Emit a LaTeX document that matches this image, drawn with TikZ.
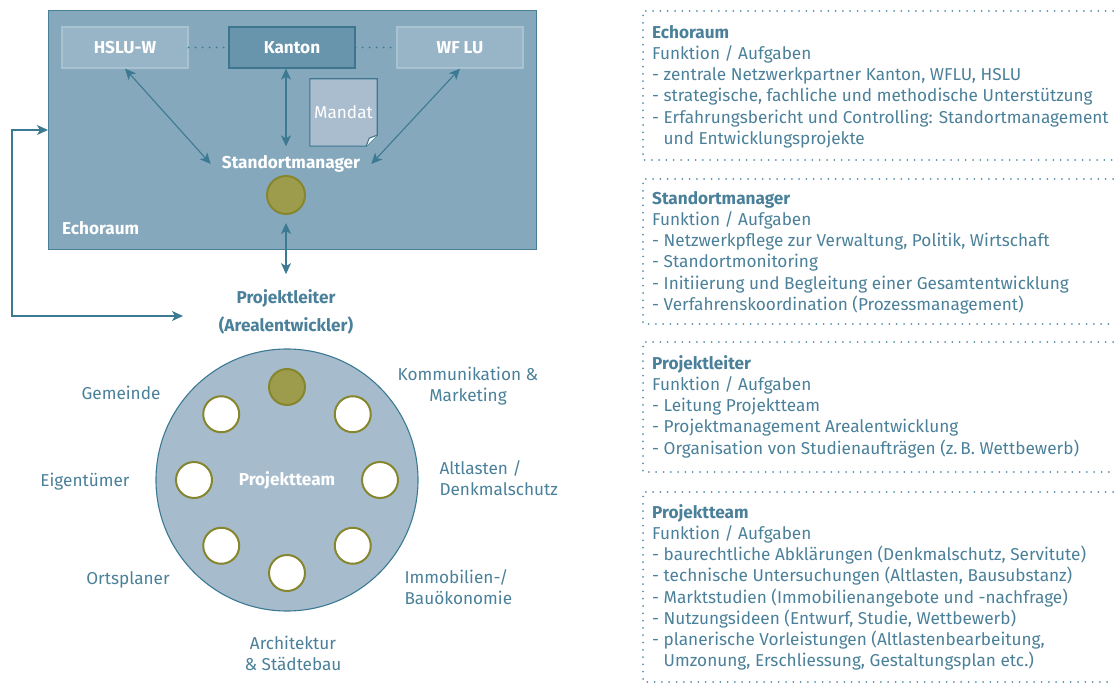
\documentclass[tikz,border=0pt]{standalone}
\usepackage{fontspec}
\setmainfont{Fira Sans}
\usetikzlibrary{arrows.meta,positioning,calc}

\definecolor{echofill}{HTML}{86A8BC}
\definecolor{echoline}{HTML}{4A7F98}
\definecolor{partnerfill}{HTML}{98B4C7}
\definecolor{partnerline}{HTML}{A9C2D2}
\definecolor{kantonfill}{HTML}{6894AC}
\definecolor{kantonline}{HTML}{3E7690}
\definecolor{mandatfill}{HTML}{A9BDCE}
\definecolor{teamfill}{HTML}{A6BCCD}
\definecolor{arrowblue}{HTML}{3B7A92}
\definecolor{olivefill}{HTML}{9C9C4C}
\definecolor{oliveline}{HTML}{86862F}
\definecolor{tealtext}{HTML}{4A8099}
\definecolor{dotblue}{HTML}{5C91A9}

\newcommand\diagfont{\fontsize{17.2}{21.2}\selectfont}

\tikzset{
  arr/.style={draw=arrowblue, line width=1.1pt,
    {Stealth[length=11pt,width=10pt,inset=3pt]}-{Stealth[length=11pt,width=10pt,inset=3pt]}},
  whitebold/.style={text=white, font=\diagfont\bfseries},
  partner/.style={whitebold, rectangle, fill=partnerfill, draw=partnerline, line width=1.2pt,
    minimum width=126pt, minimum height=41pt},
  dotline/.style={draw=arrowblue, line width=2pt, line cap=round, dash pattern=on 0pt off 7pt},
  member/.style={circle, fill=white, draw=oliveline, line width=2pt, minimum size=36pt, inner sep=0pt},
  teamlbl/.style={text=tealtext, align=center},
  info/.style={text=tealtext, anchor=north west, align=left, inner sep=0pt},
  infoline/.style={draw=dotblue, line width=2pt, line cap=round, dash pattern=on 0pt off 7.3pt},
}

\begin{document}
\begin{tikzpicture}[x=1pt,y=-1pt,font=\diagfont]
\useasboundingbox (0,0) rectangle (1119,684);

% Echoraum with the three partners
\node[rectangle, fill=echofill, draw=echoline, line width=1.2pt, anchor=north west,
  minimum width=488pt, minimum height=239pt] (echo) at (48,10) {};
\node[partner] (hslu) at (125,47.5) {HSLU-W};
\node[partner, fill=kantonfill, draw=kantonline] (kanton) at (292,47.5) {Kanton};
\node[partner] (wflu) at (460,47.5) {WF LU};
\draw[dotline] (hslu) -- (kanton);
\draw[dotline] (kanton) -- (wflu);

\node[whitebold, inner xsep=11pt, inner ysep=9pt] (sm) at (291,164) {Standortmanager};
\node[member, fill=olivefill, minimum size=38pt] (smdot) at (286,195) {};
\node[whitebold, anchor=west, inner sep=0pt] (echolabel) at (62,228) {Echoraum};

% Mandat sheet with folded corner
\node[text=white, minimum width=67pt, minimum height=67pt] (mandat) at (343.5,112.5) {Mandat};
\draw[fill=mandatfill, draw=kantonline, line width=1.1pt] (mandat.north west) -- (mandat.north east)
  -- ([yshift=11pt]mandat.south east) -- ([xshift=-11pt]mandat.south east) -- (mandat.south west) -- cycle;
\draw[draw=kantonline, line width=1.1pt, fill=white] ([yshift=11pt]mandat.south east) -- ([xshift=-8pt,yshift=8pt]mandat.south east)
  -- ([xshift=-11pt]mandat.south east);
\node[text=white] at (mandat) {Mandat};

\draw[arr] (hslu.south) -- (sm.west);
\draw[arr] (kanton.south -| smdot) -- (sm.north -| smdot);
\draw[arr] (wflu.south) -- (sm.east);

% Projektleiter
\node[text=tealtext, font=\bfseries\fontsize{17.2}{28}\selectfont, align=center] (pl) at (286,312)
  {Projektleiter\\(Arealentwickler)};
\draw[arr, shorten <=8pt, shorten >=12pt] (smdot) -- (pl);

\coordinate (plin) at (183,316);
\coordinate (fbtop) at (12,130);
\draw[arr] (plin) -| (fbtop) -- (fbtop -| echo.west);

% Projektteam
\node[circle, fill=teamfill, draw=arrowblue, line width=1.1pt, minimum size=262pt, whitebold] (team) at (287,480) {Projektteam};
\foreach \a [count=\i] in {315,0,45,90,135,180,225}
  \node[member] (m\i) at ($(team)+(\a:93)$) {};
\node[member, fill=olivefill] (mtop) at ($(team)+(270:93)$) {};

\node[teamlbl] (gemeinde) at (121,393) {Gemeinde};
\node[teamlbl] (eigentuemer) at (85,482) {Eigentümer};
\node[teamlbl] (ortsplaner) at (128,580) {Ortsplaner};
\node[teamlbl] (architektur) at (293,653) {Architektur\\\& Städtebau};
\node[teamlbl, align=left, anchor=west] (immo) at (401,587) {Immobilien-/\\Bauökonomie};
\node[teamlbl, align=left, anchor=west] (altlasten) at (436,478) {Altlasten /\\Denkmalschutz};
\node[teamlbl] (kommunikation) at (468,386) {Kommunikation \&\\Marketing};

% Funktionen / Aufgaben
\foreach \top/\bot in {11/160, 179/324, 342/472, 492/682}
  \draw[infoline] (1113,\top) -- (643,\top) -- (643,\bot) -- (1113,\bot);

\node[info] (infoecho) at (652,23.2) {\strut\textbf{Echoraum}\\Funktion / Aufgaben\\
  - zentrale Netzwerkpartner Kanton, WFLU, HSLU\\
  - strategische, fachliche und methodische Unterstützung\\
  - Erfahrungsbericht und Controlling: Standortmanagement\\
  \hphantom{- }und Entwicklungsprojekte};
\node[info] (infosm) at (652,189.2) {\strut\textbf{Standortmanager}\\Funktion / Aufgaben\\
  - Netzwerkpflege zur Verwaltung, Politik, Wirtschaft\\
  - Standortmonitoring\\
  - Initiierung und Begleitung einer Gesamtentwicklung\\
  - Verfahrenskoordination (Prozessmanagement)};
\node[info] (infopl) at (652,354.2) {\strut\textbf{Projektleiter}\\Funktion / Aufgaben\\
  - Leitung Projektteam\\
  - Projektmanagement Arealentwicklung\\
  - Organisation von Studienaufträgen (z.\,B. Wettbewerb)};
\node[info] (infoteam) at (652,503.2) {\strut\textbf{Projektteam}\\Funktion / Aufgaben\\
  - baurechtliche Abklärungen (Denkmalschutz, Servitute)\\
  - technische Untersuchungen (Altlasten, Bausubstanz)\\
  - Marktstudien (Immobilienangebote und -nachfrage)\\
  - Nutzungsideen (Entwurf, Studie, Wettbewerb)\\
  - planerische Vorleistungen (Altlastenbearbeitung,\\
  \hphantom{- }Umzonung, Erschliessung, Gestaltungsplan etc.)};
\end{tikzpicture}
\end{document}
